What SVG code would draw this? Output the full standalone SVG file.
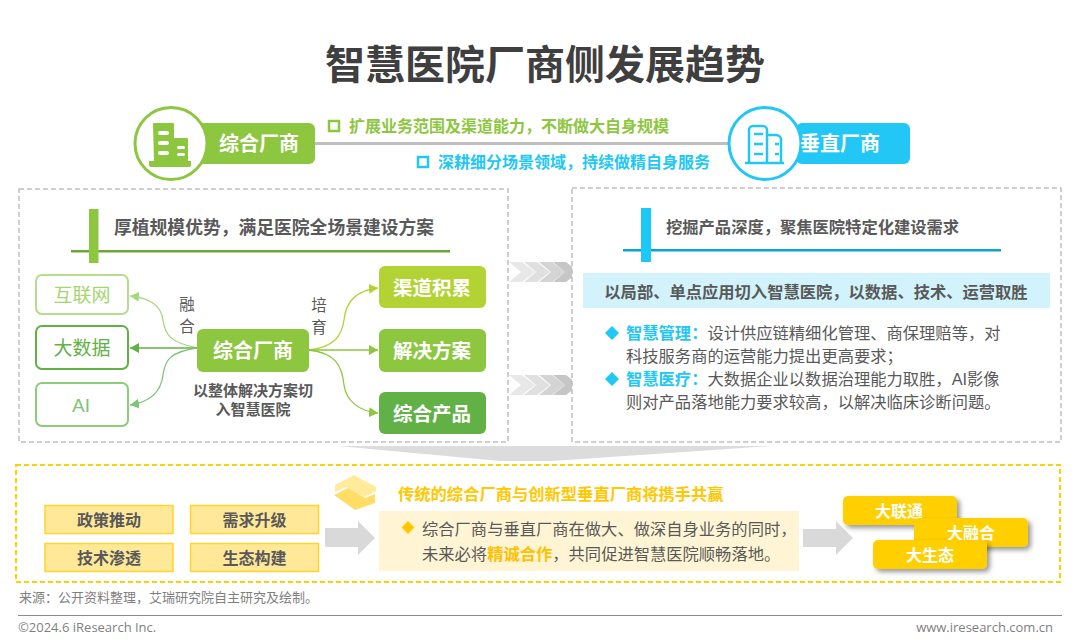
<svg xmlns="http://www.w3.org/2000/svg" width="1080" height="643" viewBox="0 0 1080 643">
<style>
text{font-family:"Liberation Sans","Noto Sans CJK SC",sans-serif}
.b{font-weight:700}
.m{text-anchor:middle}
.dash{fill:#fff;stroke:#bfbfbf;stroke-width:1.5;stroke-dasharray:5 3}
.w{fill:#fff;font-weight:700}
.g{fill:#595959}
.conn{fill:none;stroke-width:1.3}
</style>
<defs>
<marker id="a1" markerUnits="userSpaceOnUse" markerWidth="10" markerHeight="10" refX="9" refY="5" orient="auto"><path d="M0 0L9 5L0 10Z" fill="#b3d334"/></marker>
<marker id="a2" markerUnits="userSpaceOnUse" markerWidth="10" markerHeight="10" refX="9" refY="5" orient="auto"><path d="M0 0L9 5L0 10Z" fill="#8dc63f"/></marker>
<marker id="a3" markerUnits="userSpaceOnUse" markerWidth="10" markerHeight="10" refX="9" refY="5" orient="auto"><path d="M0 0L9 5L0 10Z" fill="#62b146"/></marker>
<marker id="a4" markerUnits="userSpaceOnUse" markerWidth="10" markerHeight="10" refX="9" refY="5" orient="auto"><path d="M0 0L9 5L0 10Z" fill="#a8d87c"/></marker>
<marker id="a5" markerUnits="userSpaceOnUse" markerWidth="10" markerHeight="10" refX="9" refY="5" orient="auto"><path d="M0 0L9 5L0 10Z" fill="#7cc576"/></marker>
<filter id="sh" x="-20%" y="-30%" width="140%" height="170%"><feDropShadow dx="3" dy="3" stdDeviation="2.5" flood-color="#000" flood-opacity=".4"/></filter>
<g id="chev"><path d="M0 0H13L26 10L13 20H0L12 10Z"/></g>
</defs>
<rect width="1080" height="643" fill="#fff"/>
<text id="title" x="545" y="79" class="b m" font-size="40" fill="#3f3f3f">智慧医院厂商侧发展趋势</text>

<g id="top-line"><rect x="300" y="142" width="440" height="3" fill="#bfbfbf"/></g>
<g id="vendor-left">
<rect x="198" y="123" width="117" height="41" rx="6" fill="#8dc63f"/>
<circle cx="171" cy="143.500" r="36" fill="#fff" stroke="#8dc63f" stroke-width="3"/>
<path d="M153 124a1 1 0 0 1 1-1h19a1 1 0 0 1 1 1v14h13a1 1 0 0 1 1 1v22h3v4a2 2 0 0 1-2 2h-38a2 2 0 0 1-2-2v-4h5z" fill="#8dc63f"/>
<g fill="#fff"><rect x="158" y="131" width="11" height="4" rx="2"/><rect x="158" y="141" width="11" height="4" rx="2"/><rect x="158" y="151" width="11" height="4" rx="2"/><rect x="177" y="146" width="8" height="3" rx="1.500"/><rect x="177" y="153" width="8" height="3" rx="1.500"/></g>
<text x="259" y="151" class="w m" font-size="20">综合厂商</text>
</g>
<g id="vendor-right">
<rect x="796" y="123" width="114" height="41" rx="6" fill="#22c7f5"/>
<circle cx="765" cy="143.500" r="36" fill="#fff" stroke="#22c7f5" stroke-width="3"/>
<g fill="none" stroke="#22c7f5" stroke-width="2.500"><path d="M749 163V130a4 4 0 0 1 4-4h10a4 4 0 0 1 4 4v33M767 135h9a5 5 0 0 1 5 5v23"/><path d="M745 163h39" /><path d="M754 134h9M754 144h9M754 154h9M775 144h4M775 154h4"/></g>
<text x="840" y="151" class="w m" font-size="20">垂直厂商</text>
</g>
<g id="top-text">
<rect x="329" y="121" width="10" height="10" fill="none" stroke="#8dc63f" stroke-width="2.500"/>
<text x="349" y="132" class="b" font-size="16" fill="#8dc63f">扩展业务范围及渠道能力，不断做大自身规模</text>
<rect x="418" y="157" width="10" height="10" fill="none" stroke="#22c7f5" stroke-width="2.500"/>
<text x="438" y="168" class="b" font-size="16" fill="#22c7f5">深耕细分场景领域，持续做精自身服务</text>
</g>

<g id="transition"><path d="M338 446H772L552 461H500Z" fill="#dcdcdc"/></g>
<g id="panel-left">
<rect x="19" y="189" width="489" height="253" class="dash"/>
<rect x="71" y="250" width="379" height="2.500" fill="#6da536"/>
<rect x="89" y="209" width="9.500" height="54" fill="#8dc63f"/>
<text x="114" y="234" class="b g" font-size="17.800">厚植规模优势，满足医院全场景建设方案</text>
</g>
<g id="n-hulianwang"><rect x="36" y="275" width="92" height="39" rx="6" fill="#fff" stroke="#b5dd8f" stroke-width="2"/><text x="82" y="302" class="m" font-size="19" fill="#a6d56f">互联网</text></g>
<g id="n-dashuju"><rect x="36" y="326" width="92" height="43" rx="6" fill="#fff" stroke="#62b146" stroke-width="2"/><text x="82" y="355" class="m" font-size="19" fill="#62b146">大数据</text></g>
<g id="n-ai"><rect x="36" y="383" width="92" height="43" rx="6" fill="#fff" stroke="#8ccd7a" stroke-width="2"/><text x="81" y="412" class="m" font-size="19" fill="#7cc576">AI</text></g>
<g id="n-center"><rect x="197" y="329" width="112" height="43" rx="6" fill="#8dc63f"/><text x="253" y="358" class="w m" font-size="20">综合厂商</text></g>
<g id="n-qudao"><rect x="379" y="266" width="107" height="42" rx="6" fill="#b3d334"/><text x="432" y="295" class="w m" font-size="19.500">渠道积累</text></g>
<g id="n-jiejue"><rect x="379" y="329" width="107" height="43" rx="6" fill="#8dc63f"/><text x="432" y="358" class="w m" font-size="19.500">解决方案</text></g>
<g id="n-chanpin"><rect x="379" y="392" width="107" height="42" rx="6" fill="#62b146"/><text x="432" y="421" class="w m" font-size="19.500">综合产品</text></g>
<g id="connectors">
<path class="conn" stroke="#a8d87c" marker-end="url(#a4)" d="M197 348C170 342 165 335 163 320C161 305 150 298 130 296"/>
<path class="conn" stroke="#62b146" marker-end="url(#a3)" d="M197 348L130 348"/>
<path class="conn" stroke="#7cc576" marker-end="url(#a5)" d="M197 348C170 352 165 360 163 375C161 392 150 402 130 405"/>
<path class="conn" stroke="#b3d334" marker-end="url(#a1)" d="M309 350C335 347 342 335 344 320C346 300 358 290 378 288"/>
<path class="conn" stroke="#8dc63f" marker-end="url(#a2)" d="M309 350L378 350"/>
<path class="conn" stroke="#8dc63f" marker-end="url(#a2)" d="M309 350C335 353 342 365 344 385C346 400 358 411 378 413"/>
</g>
<g id="labels-left" fill="#595959" font-size="15.500">
<text x="187" y="310" class="m">融</text><text x="187" y="332" class="m">合</text>
<text x="319" y="311" class="m">培</text><text x="319" y="333" class="m">育</text>
<text x="253" y="396" class="b m" font-size="15">以整体解决方案切</text>
<text x="253" y="415" class="b m" font-size="15">入智慧医院</text>
</g>

<g id="chevrons-top" transform="translate(509 262)"><use href="#chev" fill="#e8e8e8"/><use href="#chev" x="15" fill="#e0e0e0"/><use href="#chev" x="30" fill="#d4d4d4"/><use href="#chev" x="44" fill="#c6c6c6"/></g>
<g id="chevrons-bottom" transform="translate(509 375)"><use href="#chev" fill="#e8e8e8"/><use href="#chev" x="15" fill="#e0e0e0"/><use href="#chev" x="30" fill="#d4d4d4"/><use href="#chev" x="44" fill="#c6c6c6"/></g>

<g id="panel-right">
<rect x="572" y="188" width="489" height="254" class="dash"/>
<rect x="623" y="249" width="378" height="2.500" fill="#0aa4cc"/>
<rect x="641" y="208" width="10" height="54" fill="#1bc8f6"/>
<text x="666" y="233" class="b g" font-size="16.300">挖掘产品深度，聚焦医院特定化建设需求</text>
<rect x="583" y="273" width="467" height="35" fill="#d2f3fb"/>
<text x="816" y="298" class="b m g" font-size="16.300">以局部、单点应用切入智慧医院，以数据、技术、运营取胜</text>
<path d="M612 326l7 7-7 7-7-7zM612 372l7 7-7 7-7-7z" fill="#22c7f5"/>
<text x="626" y="339" font-size="16.300" fill="#595959"><tspan class="b" fill="#22c7f5">智慧管理：</tspan>设计供应链精细化管理、商保理赔等，对</text>
<text x="626" y="362" font-size="16.300" fill="#595959">科技服务商的运营能力提出更高要求；</text>
<text x="626" y="385" font-size="16.300" fill="#595959"><tspan class="b" fill="#22c7f5">智慧医疗：</tspan>大数据企业以数据治理能力取胜，AI影像</text>
<text x="626" y="408" font-size="16.300" fill="#595959">则对产品落地能力要求较高，以解决临床诊断问题。</text>
</g>

<g id="panel-bottom"><rect x="16" y="465" width="1044" height="117" fill="#fff" stroke="#ffcf00" stroke-width="2" stroke-dasharray="5 3"/></g>
<g id="f1"><rect x="45" y="505.500" width="128" height="28" fill="#ffe999" stroke="#ffd52e" stroke-width="1.500"/><text x="109" y="526" class="b m g" font-size="16">政策推动</text></g>
<g id="f2"><rect x="190.500" y="505.500" width="128" height="28" fill="#ffe999" stroke="#ffd52e" stroke-width="1.500"/><text x="254.500" y="526" class="b m g" font-size="16">需求升级</text></g>
<g id="f3"><rect x="45" y="543.500" width="128" height="28" fill="#ffe999" stroke="#ffd52e" stroke-width="1.500"/><text x="109" y="564" class="b m g" font-size="16">技术渗透</text></g>
<g id="f4"><rect x="190.500" y="543.500" width="128" height="28" fill="#ffe999" stroke="#ffd52e" stroke-width="1.500"/><text x="254.500" y="564" class="b m g" font-size="16">生态构建</text></g>
<g id="arrow-1"><path d="M325 528H358V521L375 538L358 555V547H325Z" fill="#d9d9d9"/></g>
<g id="arrow-2"><path d="M803 529H836V521L853 538L836 555V547H803Z" fill="#d9d9d9"/></g>
<g id="logo">
<path d="M354 475L376 487V491L364 497L346 487L335 492V485Z" fill="#ffeb99"/>
<path d="M334 495L348 488L365 498L375 494V503L355 510Z" fill="#ffdd66"/>
</g>
<g id="middle">
<text x="398" y="500" class="b" font-size="16.300" fill="#ffc800">传统的综合厂商与创新型垂直厂商将携手共赢</text>
<rect x="379" y="511" width="420" height="60" fill="#fff5d4"/>
<path d="M408 521l6.500 6.500-6.500 6.500-6.500-6.500z" fill="#ffc800"/>
<text x="422" y="535" font-size="16.300" fill="#595959">综合厂商与垂直厂商在做大、做深自身业务的同时，</text>
<text x="422" y="560" font-size="16.300" fill="#595959">未来必将<tspan class="b" fill="#ffc000">精诚合作</tspan>，共同促进智慧医院顺畅落地。</text>
</g>
<g id="t1"><rect x="843" y="496" width="114" height="29" rx="5" fill="#ffcf00" filter="url(#sh)"/><text x="899" y="517" class="w m" font-size="16">大联通</text></g>
<g id="t2"><rect x="914" y="518" width="114" height="29" rx="5" fill="#ffcf00" filter="url(#sh)"/><text x="971" y="539" class="w m" font-size="16">大融合</text></g>
<g id="t3"><rect x="873" y="540" width="114" height="29" rx="5" fill="#ffcf00" filter="url(#sh)"/><text x="930" y="561" class="w m" font-size="16">大生态</text></g>

<g id="footer">
<text x="19" y="602" font-size="13" fill="#7f7f7f">来源：公开资料整理，艾瑞研究院自主研究及绘制。</text>
<rect x="18" y="615" width="1044" height="1" fill="#8c8c8c"/>
<text x="18" y="632" font-size="13" fill="#7f7f7f" style="font-family:'Open Sans','Liberation Sans',sans-serif">©2024.6 iResearch Inc.</text>
<text x="1053" y="632" font-size="13" fill="#7f7f7f" text-anchor="end" style="font-family:'Open Sans','Liberation Sans',sans-serif">www.iresearch.com.cn</text>
</g>
</svg>
